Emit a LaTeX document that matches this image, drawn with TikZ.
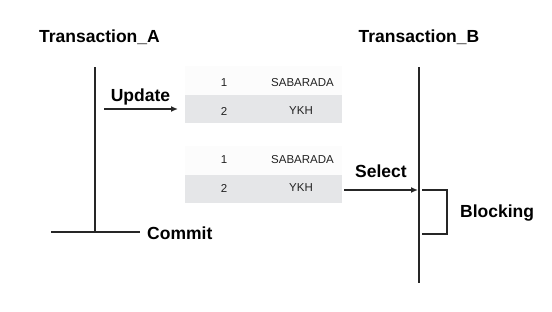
\documentclass[tikz,border=0pt]{standalone}
\usepackage{fontspec}
\setmainfont{Liberation Sans}
\usetikzlibrary{arrows.meta}
\definecolor{rowgray}{HTML}{E5E6E8}
\definecolor{rowwhite}{HTML}{FCFCFC}
\definecolor{celltext}{HTML}{222222}
\tikzset{
  lbl/.style={font=\fontsize{17.5}{20}\selectfont\bfseries, inner sep=0pt, text=black},
  cell/.style={font=\fontsize{11.5}{13}\selectfont, text=celltext, inner sep=0pt},
  life/.style={line width=1.4pt, draw=black!85},
  arr/.style={line width=1.4pt, draw=black!85, -{Latex[length=7pt,width=6pt]}},
}
\begin{document}
\begin{tikzpicture}[x=1pt,y=-1pt]
\useasboundingbox (0,0) rectangle (552,311);
% titles
\node[lbl] (ta) at (99.5,37) {Transaction\_A};
\node[lbl] (tb) at (419,37) {Transaction\_B};
% lifelines
\coordinate (atop) at (95,67);
\coordinate (abot) at (95,232);
\draw[life] (atop) -- (abot);
\coordinate (btop) at (419,67);
\coordinate (bbot) at (419,283);
\draw[life] (btop) -- (bbot);
% commit
\coordinate (cl) at (51,232);
\coordinate (cr) at (140,232);
\draw[life] (cl) -- (cr);
\node[lbl, anchor=west] (commit) at (147,233) {Commit};
% table 1
\fill[rowwhite] (185,66) rectangle (342,95);
\fill[rowgray] (185,95) rectangle (342,123);
\node[cell] (t1a) at (224,83) {1};
\node[cell] (t1b) at (302.5,83) {SABARADA};
\node[cell] (t1c) at (224,111) {2};
\node[cell] (t1d) at (301,111) {YKH};
\coordinate (t1in) at (178,109);
% table 2
\fill[rowwhite] (185,146) rectangle (342,175);
\fill[rowgray] (185,175) rectangle (342,203);
\node[cell] (t2a) at (224,160) {1};
\node[cell] (t2b) at (302.5,160) {SABARADA};
\node[cell] (t2c) at (224,188) {2};
\node[cell] (t2d) at (301,188) {YKH};
\coordinate (t2out) at (344,190);
% update
\coordinate (ustart) at (104,109);
\draw[arr] (ustart) -- (t1in);
\node[lbl] (upd) at (140.5,97) {Update};
% select
\coordinate (bsel) at (418,190);
\draw[arr] (t2out) -- (bsel);
\node[lbl] (sel) at (381,171) {Select};
% blocking bracket
\coordinate (bk1) at (422,190);
\coordinate (bk2) at (422,234);
\draw[life] (bk1) -- (447,190) -- (447,234) -- (bk2);
\node[lbl, anchor=west] (blk) at (460,213) {Blocking};
\end{tikzpicture}
\end{document}
